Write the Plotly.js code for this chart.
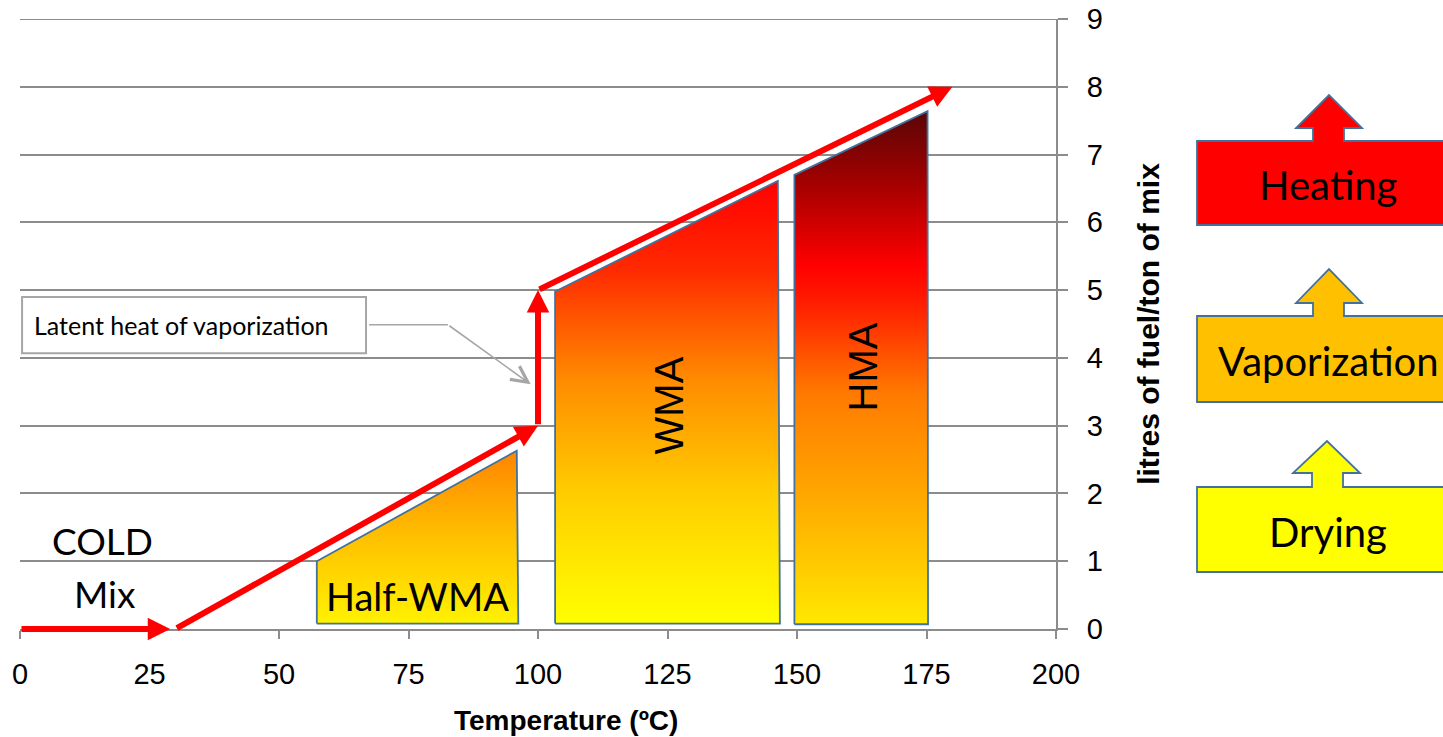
<!DOCTYPE html>
<html>
<head>
<meta charset="utf-8">
<script src="https://cdn.plot.ly/plotly-3.0.1.min.js"></script>
<style>html,body{margin:0;padding:0;background:#fff;}#chart{width:1443px;height:737px;}</style>
</head>
<body>
<div id="chart"></div>
<script>
// ---------------- DATA ----------------
const xTickVals = [0, 25, 50, 75, 100, 125, 150, 175, 200];
const yTickVals = [0, 1, 2, 3, 4, 5, 6, 7, 8, 9];
const xTitle = 'Temperature (ºC)';
const yTitle = 'litres of fuel/ton of mix';

// mix temperature bands (polygon outlines, temperature vs litres of fuel/ton)
const halfWmaX = [57.3, 57.3, 95.9, 96.2];
const halfWmaY = [0.08, 1.0, 2.63, 0.08];
const wmaX = [103.3, 103.3, 146.3, 146.7];
const wmaY = [0.08, 4.98, 6.61, 0.08];
const hmaX = [149.5, 149.5, 175.2, 175.3];
const hmaY = [0.07, 6.70, 7.64, 0.07];
const mixNames = ['Half-WMA', 'WMA', 'HMA'];

// fuel consumption path (arrow segments)
const pathTailX = [0, 30, 100, 100];
const pathTailY = [0, 0, 3, 5];
const pathTipX = [29, 100, 100, 180];
const pathTipY = [0, 3, 5, 8];

// stage labels
const stageNames = ['Heating', 'Vaporization', 'Drying'];
const stageColors = ['#ff0000', '#ffc000', '#ffff00'];

// ---------------- GEOMETRY / STYLE ----------------
const W = 1443, H = 737;
const M = {l: 20, r: 387, t: 19, b: 108};
const plotW = W - M.l - M.r, plotH = H - M.t - M.b;
const px2paperX = p => (p - M.l) / plotW;
const px2paperY = p => (H - M.b - p) / plotH;

const outline = '#41719c';
const gridGrey = '#8c8c8c';
const calibri = 'Lato, "Noto Sans", sans-serif';
const arial = '"Liberation Sans", Arial, sans-serif';

const gradHalf = [[0, '#fff200'], [0.5, '#ffc000'], [1, '#ff8400']];
const gradWma = [[0, '#ffff00'], [0.3, '#ffcc00'], [0.55, '#ff8c00'], [0.8, '#ff2a00'], [1, '#ff0000']];
const gradHma = [[0, '#ffe800'], [0.25, '#ffa800'], [0.45, '#ff7a00'], [0.62, '#ff2000'], [0.7, '#ff0000'], [0.85, '#a80000'], [1, '#5a0606']];

function band(x, y, name, cs) {
  return {
    type: 'scatter', mode: 'lines', name: name,
    x: x.concat([x[0]]), y: y.concat([y[0]]),
    fill: 'toself',
    fillgradient: {type: 'vertical', colorscale: cs, start: Math.min(...y), stop: Math.max(...y)},
    line: {color: outline, width: 1.8},
    hoverinfo: 'skip', showlegend: false
  };
}

const traces = [
  band(halfWmaX, halfWmaY, mixNames[0], gradHalf),
  band(wmaX, wmaY, mixNames[1], gradWma),
  band(hmaX, hmaY, mixNames[2], gradHma)
];

const annotations = [];
const shapes = [];

// top gridline (Plotly drops the grid line on the range edge)
shapes.push({type: 'line', xref: 'paper', yref: 'y', x0: 0, x1: 1, y0: yTickVals[yTickVals.length - 1], y1: yTickVals[yTickVals.length - 1],
  line: {color: gridGrey, width: 2}, layer: 'below'});

// red arrow path
for (let i = 0; i < pathTipX.length; i++) {
  annotations.push({
    x: pathTipX[i], y: pathTipY[i], xref: 'x', yref: 'y',
    ax: pathTailX[i], ay: pathTailY[i], axref: 'x', ayref: 'y',
    text: '', showarrow: true, arrowhead: 2, arrowsize: 0.75, arrowwidth: 6,
    arrowcolor: '#ff0000', standoff: 0, startstandoff: 0
  });
}

// mix labels
const lbl = (x, y, text, font, extra) => Object.assign({x: x, y: y, xref: 'x', yref: 'y', text: text,
  showarrow: false, xanchor: 'center', yanchor: 'middle', font: font}, extra || {});
annotations.push(lbl(16.0, 1.31, 'COLD', {family: calibri, size: 37, color: '#000'}));
annotations.push(lbl(16.4, 0.53, 'Mix', {family: calibri, size: 37, color: '#000'}));
annotations.push(lbl(76.8, 0.49, mixNames[0], {family: calibri, size: 38, color: '#000'}));
annotations.push(lbl(125.3, 3.30, mixNames[1], {family: arial, size: 40, color: '#000'}, {textangle: -90}));
annotations.push(lbl(162.7, 3.87, mixNames[2], {family: arial, size: 40, color: '#000'}, {textangle: -90}));

// latent heat callout
shapes.push({type: 'rect', xref: 'x', yref: 'y', x0: 0.4, x1: 66.8, y0: 4.07, y1: 4.90,
  line: {color: '#a6a6a6', width: 2}, fillcolor: '#ffffff', layer: 'above'});
annotations.push({x: 2.4, y: 4.48, xref: 'x', yref: 'y', xanchor: 'left', yanchor: 'middle', text: 'Latent heat of vaporization',
  showarrow: false, font: {family: calibri, size: 25, color: '#000'}});
shapes.push({type: 'line', xref: 'x', yref: 'y', x0: 67.4, x1: 82.6, y0: 4.49, y1: 4.49,
  line: {color: '#a6a6a6', width: 1.6}, layer: 'above'});
annotations.push({x: 98.6, y: 3.61, xref: 'x', yref: 'y', ax: 82.6, ay: 4.49, axref: 'x', ayref: 'y',
  text: '', showarrow: true, arrowhead: 5, arrowsize: 2, arrowwidth: 1.6, arrowcolor: '#a6a6a6', standoff: 0});

// stage boxes with up arrows (pixel geometry -> paper)
const stageGeom = [
  {top: 141, bottom: 225, headBase: 128, tip: 95, sh0: 1313, sh1: 1344, hd0: 1296, hd1: 1362, tipX: 1329},
  {top: 316, bottom: 402, headBase: 303, tip: 269, sh0: 1313, sh1: 1344, hd0: 1296, hd1: 1362, tipX: 1329},
  {top: 487, bottom: 572, headBase: 473, tip: 441, sh0: 1312, sh1: 1343, hd0: 1293, hd1: 1360, tipX: 1327}
];
const boxL = 1197, boxR = 1459;
stageGeom.forEach((g, i) => {
  const pts = [[boxL, g.bottom], [boxL, g.top], [g.sh0, g.top], [g.sh0, g.headBase], [g.hd0, g.headBase],
    [g.tipX, g.tip], [g.hd1, g.headBase], [g.sh1, g.headBase], [g.sh1, g.top], [boxR, g.top], [boxR, g.bottom]];
  const d = 'M' + pts.map(p => px2paperX(p[0]).toFixed(5) + ',' + px2paperY(p[1]).toFixed(5)).join(' L') + ' Z';
  shapes.push({type: 'path', xref: 'paper', yref: 'paper', path: d, fillcolor: stageColors[i],
    line: {color: outline, width: 1.8}, layer: 'above'});
  annotations.push({xref: 'paper', yref: 'paper', x: px2paperX(1328), y: px2paperY((g.top + g.bottom) / 2 + 2),
    xanchor: 'center', yanchor: 'middle',
    text: stageNames[i], showarrow: false, font: {family: calibri, size: 40, color: '#000'}});
});

// x-axis title (offset to the right as in the original)
annotations.push({xref: 'paper', yref: 'paper', x: px2paperX(566), y: px2paperY(721), xanchor: 'center', yanchor: 'middle',
  text: xTitle, showarrow: false, font: {family: arial, size: 28, color: '#000', weight: 'bold'}});

const layout = {
  width: W, height: H,
  margin: {l: M.l, r: M.r, t: M.t, b: M.b, pad: 0},
  paper_bgcolor: '#ffffff', plot_bgcolor: '#ffffff',
  showlegend: false,
  xaxis: {
    range: [0, 200], tickvals: xTickVals, ticktext: xTickVals.map(String),
    showgrid: false, zeroline: false,
    showline: true, linecolor: gridGrey, linewidth: 2,
    ticks: 'outside', ticklen: 8, tickwidth: 2, tickcolor: gridGrey,
    ticklabelstandoff: 10,
    tickfont: {family: arial, size: 29, color: '#000'},
    fixedrange: true
  },
  yaxis: {
    side: 'right', range: [0, 9], tickvals: yTickVals,
    showgrid: true, gridcolor: gridGrey, gridwidth: 2, zeroline: false,
    showline: true, linecolor: gridGrey, linewidth: 2,
    ticks: 'outside', ticklen: 10, tickwidth: 2, tickcolor: gridGrey,
    ticklabelstandoff: 13,
    tickfont: {family: arial, size: 29, color: '#000'},
    title: {text: yTitle, font: {family: arial, size: 30, color: '#000', weight: 'bold'}, standoff: 36},
    fixedrange: true
  },
  shapes: shapes,
  annotations: annotations
};

Plotly.newPlot('chart', traces, layout, {displayModeBar: false, staticPlot: true});
</script>
</body>
</html>
